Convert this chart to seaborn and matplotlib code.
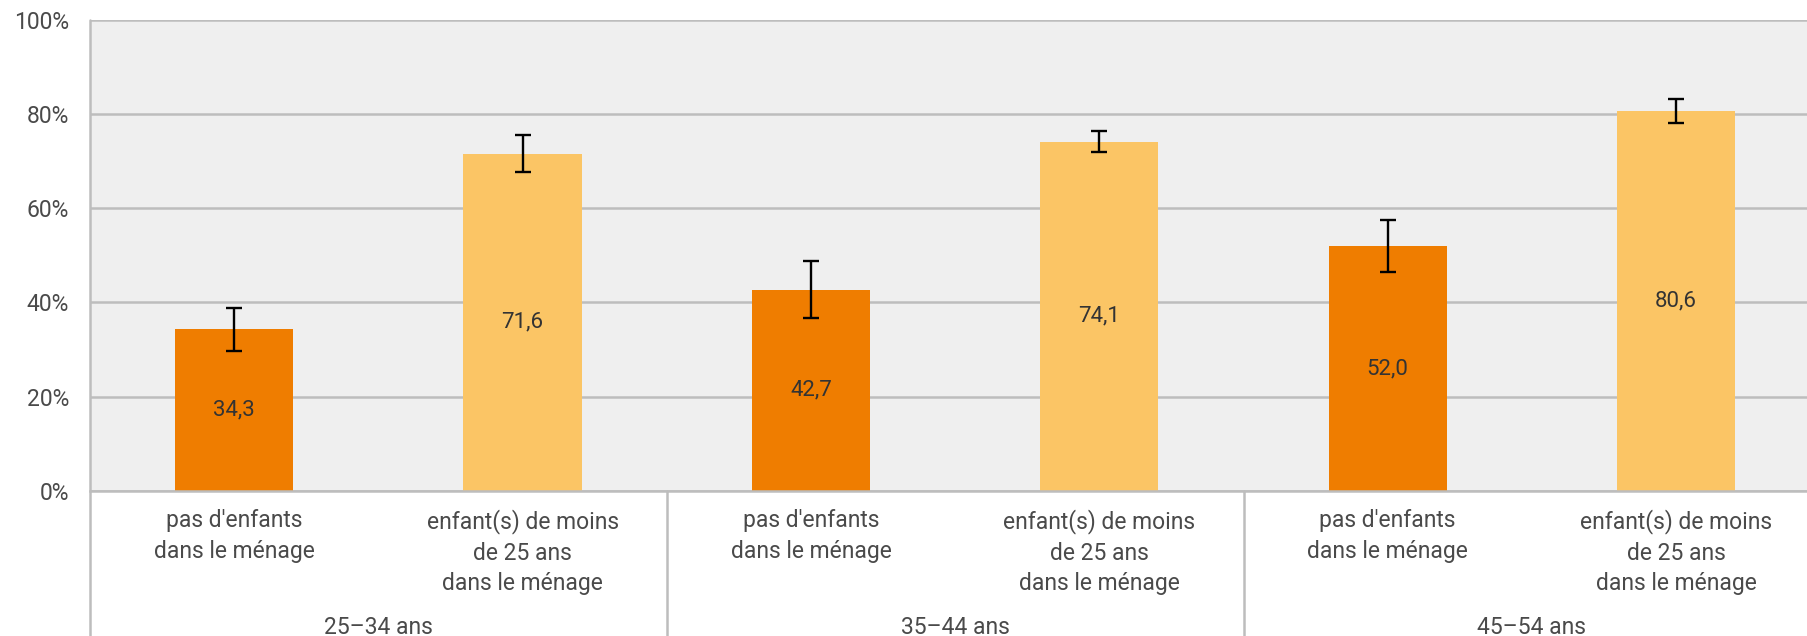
import numpy as np
import pandas as pd
import matplotlib
matplotlib.use('Agg')
import matplotlib.pyplot as plt
import matplotlib.transforms as mtransforms
import seaborn as sns

# --------------------------
# Data
# --------------------------
age_groups = ["25–34 ans", "35–44 ans", "45–54 ans"]
household = ["pas d'enfants\ndans le ménage",
             "enfant(s) de moins\nde 25 ans\ndans le ménage"]
no_kids = [34.3, 42.7, 52.0]
with_kids = [71.6, 74.1, 80.6]
no_kids_err = [4.5, 6.0, 5.6]
with_kids_err = [3.9, 2.2, 2.5]
y_ticks = [0, 20, 40, 60, 80, 100]
y_tick_labels = ["0%", "20%", "40%", "60%", "80%", "100%"]

rows = []
for i, grp in enumerate(age_groups):
    rows.append({"slot": f"{grp} a", "group": grp, "type": "none",
                 "label": household[0], "value": no_kids[i], "err": no_kids_err[i]})
    rows.append({"slot": f"{grp} b", "group": grp, "type": "kids",
                 "label": household[1], "value": with_kids[i], "err": with_kids_err[i]})
df = pd.DataFrame(rows)

# --------------------------
# Style
# --------------------------
sns.set_theme(style="white")
plt.rcParams['font.family'] = ['Roboto', 'DejaVu Sans']
text_grey = "#4a4a4a"
line_grey = "#bdbdbd"
fs = 16.5

fig = plt.figure(figsize=(18.08, 6.36), dpi=100)
ax = fig.add_axes([0.0498, 0.228, 0.957, 0.741])
ax.set_facecolor("#efefef")

sns.barplot(data=df, x="slot", y="value", hue="type",
            palette={"none": "#ef7d00", "kids": "#fbc565"},
            dodge=False, width=0.41, legend=False, ax=ax, errorbar=None,
            saturation=1, linewidth=0)

# error bars, placed on the bar centres
bars = [p for p in ax.patches if p.get_height() > 0]
bars.sort(key=lambda p: p.get_x())
xs = [p.get_x() + p.get_width() / 2 for p in bars]
ax.errorbar(xs, df["value"], yerr=df["err"], fmt="none", ecolor="black",
            elinewidth=1.7, capsize=6, capthick=1.7, zorder=5)

# value labels inside bars
for x, v in zip(xs, df["value"]):
    ax.text(x, v / 2, f"{v:.1f}".replace(".", ","), ha="center", va="center",
            fontsize=16, color="#333333", zorder=6)

ax.set_ylim(0, 100)
ax.set_xlim(-0.5, len(df) - 0.5)
ax.set_yticks(y_ticks)
ax.set_yticklabels(y_tick_labels, fontsize=fs, color=text_grey)
ax.yaxis.grid(True, color=line_grey, linewidth=1.8)
ax.set_axisbelow(True)
ax.tick_params(axis="y", length=7, width=1.5, color=line_grey, pad=8)

ax.set_xticks(np.arange(len(df)))
ax.set_xticklabels(df["label"], fontsize=fs, color=text_grey, linespacing=1.42)
ax.tick_params(axis="x", length=0, pad=13)
ax.set_xlabel("")
ax.set_ylabel("")

for s in ["top", "right", "left"]:
    ax.spines[s].set_visible(False)
ax.spines["bottom"].set_color(line_grey)
ax.spines["bottom"].set_linewidth(1.8)

# vertical separators running below the axis
trans = mtransforms.blended_transform_factory(ax.transData, ax.transAxes)
for k in range(len(age_groups)):
    xsep = 2 * k - 0.5
    ax.plot([xsep, xsep], [1, -0.5] if k == 0 else [0, -0.5], color=line_grey,
            linewidth=1.8, transform=trans, clip_on=False, zorder=1)
    ax.text(2 * k + 0.5, -0.29, age_groups[k], transform=trans, ha="center",
            va="center", fontsize=fs, color=text_grey)

fig.savefig("out.png", dpi=100)
